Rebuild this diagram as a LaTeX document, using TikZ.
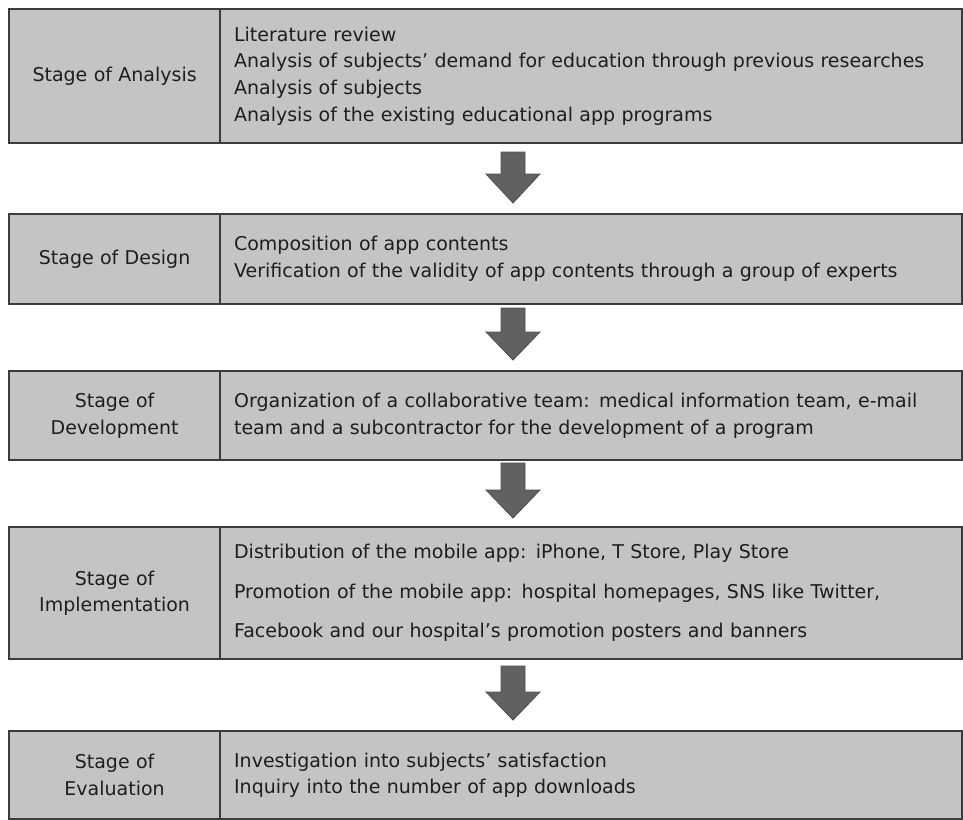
\documentclass[tikz,border=0pt]{standalone}
\usepackage{fontspec}
\setmainfont{DejaVu Sans}
\definecolor{boxfill}{HTML}{C4C4C4}
\definecolor{boxline}{HTML}{3C3C3C}
\definecolor{arrowfill}{HTML}{616161}
\definecolor{arrowline}{HTML}{4E4E4E}
\definecolor{txt}{HTML}{1E1E1E}
\begin{document}
\begin{tikzpicture}[x=1pt,y=-1pt,
  cellbase/.style={draw=boxline, fill=boxfill, line width=2.2pt, anchor=north west,
    text=txt, font=\fontsize{19}{26.7}\selectfont, inner ysep=0pt},
  labelcell/.style={cellbase, minimum width=211pt, text width=195pt, inner xsep=8pt, align=center},
  textcell/.style={cellbase, minimum width=742pt, text width=714pt, inner xsep=14pt, align=left},
  blockarrow/.style={fill=arrowfill, draw=arrowline, line width=0.8pt, line join=miter}
]
\useasboundingbox (0,0) rectangle (963,819);

% Stage of Analysis
\node[labelcell, minimum height=134pt] (l1) at (8,8) {Stage of Analysis};
\node[textcell, minimum height=134pt] (r1) at (219,8) {Literature review\\
Analysis of subjects' demand for education through previous researches\\
Analysis of subjects\\
Analysis of the existing educational app programs};

% Stage of Design
\node[labelcell, minimum height=90pt] (l2) at (8,213) {Stage of Design};
\node[textcell, minimum height=90pt] (r2) at (219,213) {Composition of app contents\\
Verification of the validity of app contents through a group of experts};

% Stage of Development
\node[labelcell, minimum height=89pt] (l3) at (8,370) {Stage of\\Development};
\node[textcell, minimum height=89pt] (r3) at (219,370) {Organization of a collaborative team: medical information team, e-mail\\
team and a subcontractor for the development of a program};

% Stage of Implementation
\node[labelcell, minimum height=132pt] (l4) at (8,526) {Stage of\\Implementation};
\node[textcell, minimum height=132pt, font=\fontsize{19}{39.5}\selectfont] (r4) at (219,526) {Distribution of the mobile app: iPhone, T Store, Play Store\\
Promotion of the mobile app: hospital homepages, SNS like Twitter,\\
Facebook and our hospital's promotion posters and banners};

% Stage of Evaluation
\node[labelcell, minimum height=88pt] (l5) at (8,730) {Stage of\\Evaluation};
\node[textcell, minimum height=88pt] (r5) at (219,730) {Investigation into subjects' satisfaction\\
Inquiry into the number of app downloads};

% block arrows
\foreach \top/\base/\tip in {152/174/203, 308/332/360, 463/490/518, 666/692/720}{
  \draw[blockarrow] (501,\top) -- (525,\top) -- (525,\base) -- (540,\base) -- (513,\tip)
    -- (486,\base) -- (501,\base) -- cycle;
}
\end{tikzpicture}
\end{document}
